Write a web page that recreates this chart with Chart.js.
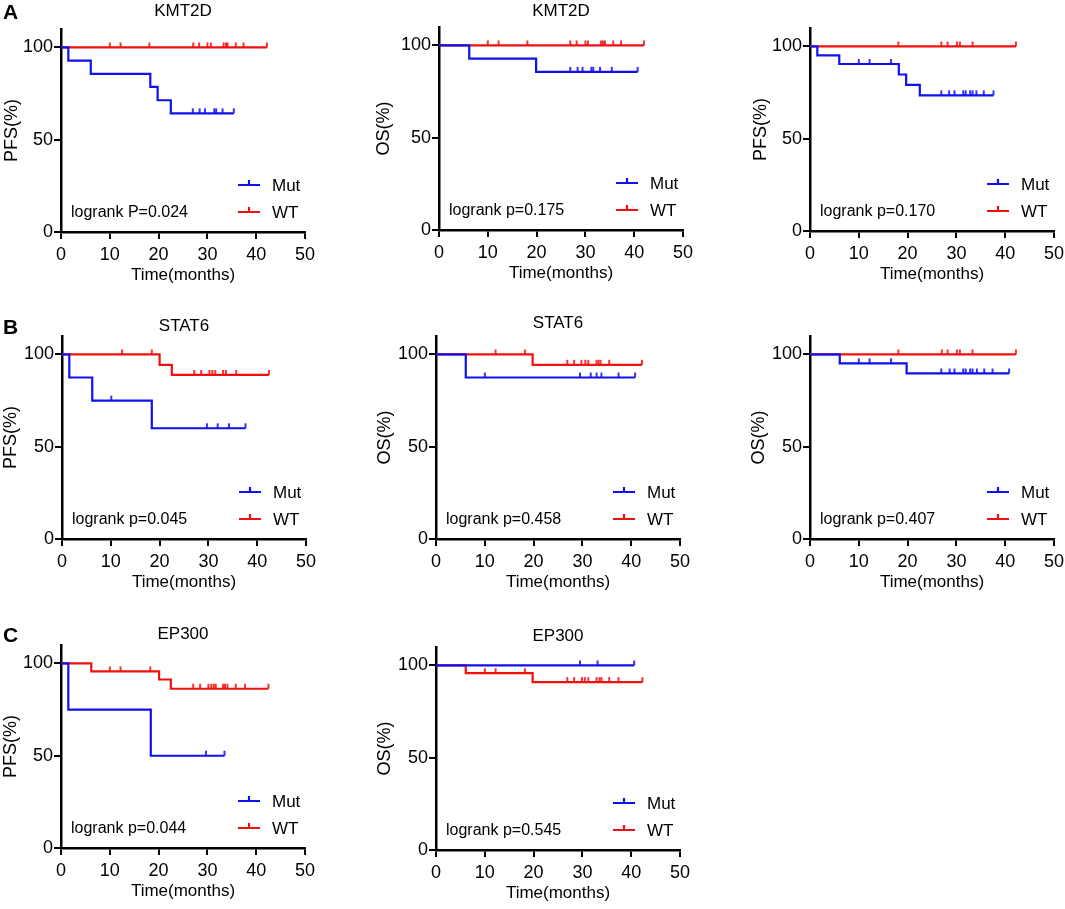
<!DOCTYPE html>
<html lang="en">
<head>
<meta charset="UTF-8">
<title>KM curves - KMT2D / STAT6 / EP300</title>
<script src="https://cdn.jsdelivr.net/npm/chart.js"></script>
<style>
  body { margin: 0; background: #fff; }
  #page { position: relative; width: 1065px; height: 909px; overflow: hidden; }
  #page canvas { position: absolute; }
</style>
</head>
<body>
<div id="page"></div>
<script>
// axis ticks + groups
const xTicks = [0, 10, 20, 30, 40, 50];
const yTicks = [0, 50, 100];
const groupNames = ['Mut', 'WT'];

// A - KMT2D PFS
const kmt2dPfsMutTime = [1.5, 6.1, 18.3, 19.8, 22.5];
const kmt2dPfsMutSurv = [92.9, 85.7, 78.6, 71.4, 64.3];
const kmt2dPfsMutCens = [27.0, 28.4, 29.5, 31.4, 31.8, 33.1, 35.4];
const kmt2dPfsWtTime = [];
const kmt2dPfsWtSurv = [];
const kmt2dPfsWtCens = [10.0, 12.2, 18.1, 27.1, 28.3, 30.0, 30.7, 33.3, 33.8, 34.1, 35.8, 37.4, 42.2];

// A - KMT2D OS
const kmt2dOsMutTime = [6.2, 19.9];
const kmt2dOsMutSurv = [92.9, 85.7];
const kmt2dOsMutCens = [26.9, 28.4, 29.4, 31.2, 31.6, 33.0, 35.4, 40.7];
const kmt2dOsWtTime = [];
const kmt2dOsWtSurv = [];
const kmt2dOsWtCens = [10.0, 12.2, 18.1, 26.9, 28.2, 30.0, 30.5, 33.2, 33.6, 34.0, 35.7, 37.3, 42.0];

// D - PFS
const dPfsMutTime = [1.5, 6.0, 18.2, 19.7, 22.5];
const dPfsMutSurv = [95.2, 90.5, 84.8, 79.2, 73.5];
const dPfsMutCens = [10.0, 12.2, 16.6, 26.9, 28.5, 29.6, 31.4, 31.9, 32.8, 33.3, 34.1, 35.6, 37.6];
const dPfsWtTime = [];
const dPfsWtSurv = [];
const dPfsWtCens = [18.1, 26.9, 28.2, 30.1, 30.7, 33.3, 42.2];

// B - STAT6 PFS
const stat6PfsMutTime = [1.5, 6.2, 18.4];
const stat6PfsMutSurv = [87.5, 75.0, 60.0];
const stat6PfsMutCens = [10.1, 29.7, 31.9, 34.2, 37.6];
const stat6PfsWtTime = [20.0, 22.5];
const stat6PfsWtSurv = [94.4, 88.9];
const stat6PfsWtCens = [12.3, 18.4, 27.1, 28.5, 30.2, 30.8, 31.4, 33.0, 33.6, 35.7, 42.4];

// B - STAT6 OS
const stat6OsMutTime = [6.1];
const stat6OsMutSurv = [87.5];
const stat6OsMutCens = [10.0, 29.5, 31.7, 32.9, 33.9, 37.4, 40.8];
const stat6OsWtTime = [19.8];
const stat6OsWtSurv = [94.4];
const stat6OsWtCens = [12.2, 18.2, 26.9, 28.3, 29.8, 30.6, 31.2, 32.9, 33.3, 33.7, 35.5, 42.2];

// D - OS
const dOsMutTime = [6.1, 19.8];
const dOsMutSurv = [95.2, 89.7];
const dOsMutCens = [10.0, 12.2, 16.6, 26.9, 28.6, 29.6, 31.4, 31.9, 32.8, 33.3, 34.2, 35.7, 37.4, 40.8];
const dOsWtTime = [];
const dOsWtSurv = [];
const dOsWtCens = [18.1, 27.0, 28.2, 30.1, 30.7, 33.3, 42.2];

// C - EP300 PFS
const ep300PfsMutTime = [1.5, 18.4];
const ep300PfsMutSurv = [75.0, 50.0];
const ep300PfsMutCens = [29.7, 33.5];
const ep300PfsWtTime = [6.2, 20.1, 22.5];
const ep300PfsWtSurv = [95.7, 91.3, 86.3];
const ep300PfsWtCens = [10.0, 12.2, 18.3, 27.1, 28.5, 30.2, 30.8, 31.3, 31.7, 33.2, 33.6, 34.1, 35.8, 37.7, 42.5];

// C - EP300 OS
const ep300OsMutTime = [];
const ep300OsMutSurv = [];
const ep300OsMutCens = [29.5, 33.1, 40.6];
const ep300OsWtTime = [6.1, 19.8];
const ep300OsWtSurv = [95.8, 91.0];
const ep300OsWtCens = [10.0, 12.2, 18.2, 26.9, 28.3, 29.9, 30.5, 31.2, 32.9, 33.5, 33.9, 35.5, 37.4, 42.3];

const FONT = 'Arial, "Liberation Sans", Helvetica, sans-serif';
const BLUE = '#1010f0';
const RED = '#f01010';

// panel placement on the page (x0/y0 = pixel of the axis origin)
const panels = [
  { letter: 'A', title: 'KMT2D', yLabel: 'PFS(%)', pText: 'logrank P=0.024', x0: 61, y0: 232, titleY: 11,
    mut: [kmt2dPfsMutTime, kmt2dPfsMutSurv, kmt2dPfsMutCens], wt: [kmt2dPfsWtTime, kmt2dPfsWtSurv, kmt2dPfsWtCens], yGap: 49 },
  { letter: '', title: 'KMT2D', yLabel: 'OS(%)', pText: 'logrank p=0.175', x0: 439, y0: 230, titleY: 11,
    mut: [kmt2dOsMutTime, kmt2dOsMutSurv, kmt2dOsMutCens], wt: [kmt2dOsWtTime, kmt2dOsWtSurv, kmt2dOsWtCens], yGap: 55 },
  { letter: 'D', title: '', yLabel: 'PFS(%)', pText: 'logrank p=0.170', x0: 810, y0: 231, titleY: 11,
    mut: [dPfsMutTime, dPfsMutSurv, dPfsMutCens], wt: [dPfsWtTime, dPfsWtSurv, dPfsWtCens], yGap: 49 },
  { letter: 'B', title: 'STAT6', yLabel: 'PFS(%)', pText: 'logrank p=0.045', x0: 62, y0: 539, titleY: 326,
    mut: [stat6PfsMutTime, stat6PfsMutSurv, stat6PfsMutCens], wt: [stat6PfsWtTime, stat6PfsWtSurv, stat6PfsWtCens], yGap: 51 },
  { letter: '', title: 'STAT6', yLabel: 'OS(%)', pText: 'logrank p=0.458', x0: 436, y0: 539, titleY: 323,
    mut: [stat6OsMutTime, stat6OsMutSurv, stat6OsMutCens], wt: [stat6OsWtTime, stat6OsWtSurv, stat6OsWtCens], yGap: 51 },
  { letter: '', title: '', yLabel: 'OS(%)', pText: 'logrank p=0.407', x0: 810, y0: 539, titleY: 323,
    mut: [dOsMutTime, dOsMutSurv, dOsMutCens], wt: [dOsWtTime, dOsWtSurv, dOsWtCens], yGap: 51 },
  { letter: 'C', title: 'EP300', yLabel: 'PFS(%)', pText: 'logrank p=0.044', x0: 61, y0: 848, titleY: 634,
    mut: [ep300PfsMutTime, ep300PfsMutSurv, ep300PfsMutCens], wt: [ep300PfsWtTime, ep300PfsWtSurv, ep300PfsWtCens], yGap: 50 },
  { letter: '', title: 'EP300', yLabel: 'OS(%)', pText: 'logrank p=0.545', x0: 436, y0: 850, titleY: 636,
    mut: [ep300OsMutTime, ep300OsMutSurv, ep300OsMutCens], wt: [ep300OsWtTime, ep300OsWtSurv, ep300OsWtCens], yGap: 51 }
];

const AXIS_W = 70, PLOT_W = 244, PLOT_H = 203, TOP = 45, BOTTOM = 62, RIGHT = 22;
const CW = AXIS_W + PLOT_W + RIGHT, CH = TOP + PLOT_H + BOTTOM;

// small upward censor tick used as point style
function censorMark(color) {
  const c = document.createElement('canvas');
  c.width = 4; c.height = 14;
  const g = c.getContext('2d');
  g.strokeStyle = color;
  g.lineWidth = 1.7;
  g.beginPath();
  g.moveTo(2, 2);
  g.lineTo(2, 7);
  g.stroke();
  return c;
}
const marks = { [BLUE]: censorMark(BLUE), [RED]: censorMark(RED) };

function stepLine(times, surv, cens) {
  const pts = [{ x: 0, y: 100 }];
  times.forEach((t, i) => pts.push({ x: t, y: surv[i] }));
  const last = surv.length ? surv[surv.length - 1] : 100;
  pts.push({ x: Math.max(...cens), y: last });
  return pts;
}

function survAt(times, surv, t) {
  let s = 100;
  times.forEach((tt, i) => { if (tt <= t) s = surv[i]; });
  return s;
}

function groupDatasets(group, color) {
  const [times, surv, cens] = group;
  return [
    { type: 'line', data: stepLine(times, surv, cens), stepped: true, borderColor: color,
      borderWidth: 2.2, pointRadius: 0, fill: false },
    { type: 'line', showLine: false, data: cens.map(t => ({ x: t, y: survAt(times, surv, t) })),
      pointStyle: marks[color], pointRadius: 3, borderColor: color, backgroundColor: color }
  ];
}

const panelText = {
  id: 'panelText',
  afterDraw(chart, args, o) {
    const ctx = chart.ctx;
    const x0 = chart.scales.x.getPixelForValue(0);
    const y0 = chart.scales.y.getPixelForValue(0);
    const area = chart.chartArea;
    ctx.save();
    ctx.fillStyle = '#000';
    ctx.textBaseline = 'middle';
    if (o.title) {
      ctx.font = '17px ' + FONT;
      ctx.textAlign = 'center';
      ctx.fillText(o.title, (area.left + area.right) / 2, o.titleY);
    }
    if (o.letter) {
      ctx.font = 'bold 21px ' + FONT;
      ctx.textAlign = 'left';
      ctx.fillText(o.letter, o.letterX, o.titleY + 2);
    }
    ctx.font = '16px ' + FONT;
    ctx.textAlign = 'left';
    ctx.fillText(o.pText, x0 + 10, y0 - 19);

    // legend
    [[groupNames[0], BLUE, 47], [groupNames[1], RED, 20]].forEach(([name, color, dy]) => {
      const y = y0 - dy;
      ctx.strokeStyle = color;
      ctx.lineWidth = 2.2;
      ctx.beginPath();
      ctx.moveTo(x0 + 177, y);
      ctx.lineTo(x0 + 199, y);
      ctx.moveTo(x0 + 188, y);
      ctx.lineTo(x0 + 188, y - 5);
      ctx.stroke();
      ctx.fillStyle = '#000';
      ctx.font = '17px ' + FONT;
      ctx.fillText(name, x0 + 211, y + 1);
    });
    ctx.restore();
  }
};

Chart.defaults.font.family = FONT;
Chart.defaults.color = '#000';

const page = document.getElementById('page');
panels.forEach(p => {
  const left = p.x0 - AXIS_W;
  const top = p.y0 - PLOT_H - TOP;
  const cv = document.createElement('canvas');
  cv.width = CW; cv.height = CH;
  cv.style.left = left + 'px';
  cv.style.top = top + 'px';
  cv.style.width = CW + 'px';
  cv.style.height = CH + 'px';
  page.appendChild(cv);

  const axisGrid = { display: true, drawOnChartArea: false, drawTicks: true, tickLength: 7, color: '#000', lineWidth: 2 };
  const axisBorder = { display: true, color: '#000', width: 2.5 };

  new Chart(cv, {
    type: 'line',
    data: { datasets: [...groupDatasets(p.mut, BLUE), ...groupDatasets(p.wt, RED)] },
    options: {
      responsive: false,
      animation: false,
      events: [],
      layout: { padding: { top: TOP, right: RIGHT, left: 0, bottom: 0 } },
      plugins: {
        legend: { display: false },
        tooltip: { enabled: false },
        panelText: { title: p.title, titleY: p.titleY - top, letter: p.letter, letterX: 3 - left, pText: p.pText }
      },
      scales: {
        x: {
          type: 'linear', min: 0, max: 50,
          afterBuildTicks: s => { s.ticks = xTicks.map(v => ({ value: v })); },
          afterFit: s => { s.height = BOTTOM; },
          ticks: { font: { size: 18 }, maxRotation: 0, padding: 5 },
          grid: axisGrid, border: axisBorder,
          title: { display: true, text: 'Time(months)', font: { size: 17 }, padding: { top: 0, bottom: 8 } }
        },
        y: {
          type: 'linear', min: 0, max: 110,
          afterBuildTicks: s => { s.ticks = yTicks.map(v => ({ value: v })); },
          afterFit: s => { s.width = AXIS_W; },
          ticks: { font: { size: 18 }, padding: 1 },
          grid: axisGrid, border: axisBorder,
          title: { display: true, text: p.yLabel, font: { size: 18 }, padding: { top: AXIS_W - p.yGap - 10.8, bottom: 0 } }
        }
      }
    },
    plugins: [panelText]
  });
});
</script>
</body>
</html>
